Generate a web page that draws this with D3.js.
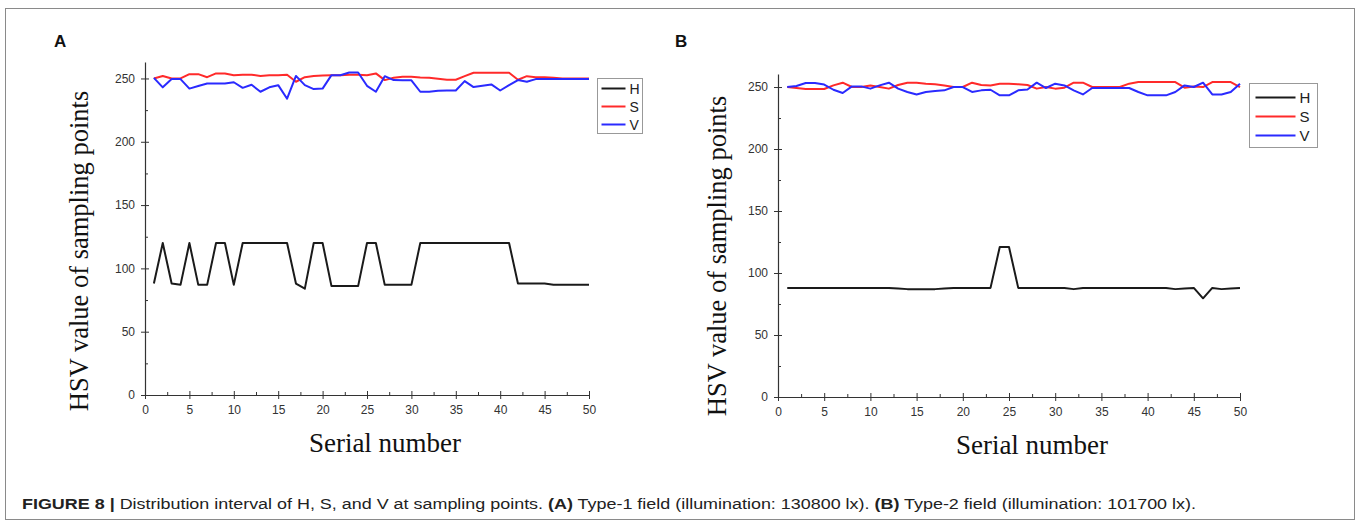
<!DOCTYPE html>
<html>
<head>
<meta charset="utf-8">
<script src="https://cdn.jsdelivr.net/npm/d3@7"></script>
<style>
  html, body { margin: 0; padding: 0; background: #fff; }
  svg { display: block; }
</style>
</head>
<body>
<svg id="chart" width="1360" height="525"></svg>
<script>
// ---------- DATA ----------
const serial = d3.range(1, 51);
const xTickValues = [0, 5, 10, 15, 20, 25, 30, 35, 40, 45, 50];
const yTickValues = [0, 50, 100, 150, 200, 250];
const seriesNames = ["H", "S", "V"];

const hA = [88,120,88,87,120,87,87,120,120,87,
            120,120,120,120,120,120,88,84,120,120,
            86,86,86,86,120,120,87,87,87,87,
            120,120,120,120,120,120,120,120,120,120,
            120,88,88,88,88,87,87,87,87,87];
const sA = [250,252,250,250,253.4,253.4,251,254,254,252.6,
            253,253,252,252.5,252.6,253,247.4,251,252,252.4,
            252.6,252.6,253,253,252.6,254,248.7,250.5,251.3,251.3,
            250.8,250.5,249.7,249,249,251.8,254.5,254.5,254.5,254.5,
            254.5,249,251.8,251,251,250.5,250,250,250,250];
const vA = [250.5,243,249.5,249.5,242,244,246,246,246,247,
            242.6,245,239.5,243,244.7,234,252,244.7,241.6,242,
            252.6,252.6,254.7,254.7,244.2,239.5,251.8,248.7,248.5,248.5,
            239.5,239.5,240.3,240.5,240.5,247.9,243.2,244.2,245.3,240.5,
            244.7,248.7,247.4,249.5,249.5,249.5,249.5,249.5,249.5,249.5];

const hB = [88,88,88,88,88,88,88,88,88,88,
            88,88,87.5,87,87,87,87,87.5,88,88,
            88,88,88,121,121,88,88,88,88,88,
            88,87,88,88,88,88,88,88,88,88,
            88,88,87,87.6,88,79.6,88,87,87.6,88];
const sB = [250,249.2,248.4,248.4,248.4,251.3,253.5,250,250,251.3,
            250,248.7,251.6,253.5,253.5,252.7,252.2,251.3,250,250,
            253.5,251.6,251.3,252.7,252.7,252.2,251.6,248.7,250,248.7,
            249.5,253.5,253.5,250,250,250,250,252.7,254,254,
            254,254,254,249.5,250.5,250,254,254,254,250];
const vB = [250,250.8,253.2,253.2,252,247.8,245.2,250.5,250.5,248.7,
            251.3,253.5,248.7,246,244,246,246.8,247.3,250,250,
            246,247.3,247.8,243.3,243.3,247.3,248,253.5,249.2,252.7,
            251.3,247.3,244,249.2,249.2,249.2,249.2,249.2,246,243.3,
            243.3,243.3,246,251.3,250,253.5,244,244,246,252.7];

// ---------- STYLE ----------
const colors = { H: "#1a1a1a", S: "#ff2a2a", V: "#2a2aff" };
const svg = d3.select("#chart");

// outer frame
svg.append("rect").attr("x", 5.5).attr("y", 8.5).attr("width", 1349).attr("height", 511)
  .attr("fill", "none").attr("stroke", "#8a8a8a").attr("stroke-width", 1);

function drawPanel(cfg) {
  const g = svg.append("g");
  const x = d3.scaleLinear().domain([0, 50]).range([cfg.x0, cfg.x1]);
  const y = d3.scaleLinear().domain([0, cfg.yTop]).range([cfg.y0, cfg.y1]);

  // minor ticks
  const minorX = d3.range(2.5, 50, 5);
  const minorY = d3.range(25, 260, 50);
  g.append("g").attr("transform", `translate(0,${cfg.y0})`)
    .call(d3.axisBottom(x).tickValues(minorX).tickSize(-3).tickFormat(""))
    .call(a => a.select(".domain").remove())
    .selectAll("line").attr("stroke", "#333");
  g.append("g").attr("transform", `translate(${cfg.x0},0)`)
    .call(d3.axisLeft(y).tickValues(minorY).tickSize(-3).tickFormat(""))
    .call(a => a.select(".domain").remove())
    .selectAll("line").attr("stroke", "#333");

  // x axis
  const xa = g.append("g").attr("transform", `translate(0,${cfg.y0})`)
    .call(d3.axisBottom(x).tickValues(xTickValues).tickSize(4).tickSizeOuter(0).tickPadding(6));
  xa.select(".domain").attr("stroke", "#333").attr("stroke-width", 1.2);
  xa.selectAll(".tick line").attr("y1", -4).attr("y2", 4).attr("stroke", "#333");
  xa.selectAll("text").attr("font-family", "Liberation Sans, Arial, sans-serif")
    .attr("font-size", 12).attr("fill", "#333");

  // y axis
  const ya = g.append("g").attr("transform", `translate(${cfg.x0},0)`)
    .call(d3.axisLeft(y).tickValues(yTickValues).tickSize(4).tickSizeOuter(0).tickPadding(6));
  ya.select(".domain").attr("stroke", "#333").attr("stroke-width", 1.2);
  ya.selectAll(".tick line").attr("x1", -4).attr("x2", 4).attr("stroke", "#333");
  ya.selectAll("text").attr("font-family", "Liberation Sans, Arial, sans-serif")
    .attr("font-size", 12).attr("fill", "#333");

  // lines
  const line = d3.line().x((d, i) => x(serial[i])).y(d => y(d));
  cfg.series.forEach((vals, k) => {
    g.append("path").datum(vals).attr("d", line)
      .attr("fill", "none").attr("stroke", colors[seriesNames[k]])
      .attr("stroke-width", 2).attr("stroke-linejoin", "round");
  });

  // axis titles
  g.append("text").attr("x", cfg.xTitleX).attr("y", cfg.xTitleY)
    .attr("text-anchor", "middle").attr("font-family", "Liberation Serif, Times New Roman, serif")
    .attr("font-size", 27).attr("fill", "#111").text("Serial number");
  g.append("text")
    .attr("transform", `translate(${cfg.yTitleX},${cfg.yTitleCY}) rotate(-90)`)
    .attr("text-anchor", "middle").attr("font-family", "Liberation Serif, Times New Roman, serif")
    .attr("font-size", 26.5).attr("fill", "#111").text("HSV value of sampling points");

  // panel letter
  g.append("text").attr("x", cfg.letterX).attr("y", 47)
    .attr("font-family", "Liberation Sans, Arial, sans-serif").attr("font-weight", "bold")
    .attr("font-size", 17).attr("fill", "#111").text(cfg.letter);

  // legend
  const L = cfg.legend;
  g.append("rect").attr("x", L.x).attr("y", L.y).attr("width", L.w).attr("height", L.h)
    .attr("fill", "#fff").attr("stroke", "#999").attr("stroke-width", 1);
  seriesNames.forEach((n, i) => {
    const yy = L.y + L.first + i * L.step;
    g.append("line").attr("x1", L.x + L.lx0).attr("x2", L.x + L.lx1)
      .attr("y1", yy).attr("y2", yy).attr("stroke", colors[n]).attr("stroke-width", 2);
    g.append("text").attr("x", L.x + L.tx).attr("y", yy).attr("dy", "0.36em")
      .attr("font-family", "Liberation Sans, Arial, sans-serif").attr("font-size", L.fs)
      .attr("fill", "#222").text(n);
  });
}

drawPanel({
  letter: "A", letterX: 54,
  x0: 145, x1: 589, y0: 395, y1: 62, yTop: 263,
  series: [hA, sA, vA],
  xTitleX: 385, xTitleY: 452, yTitleX: 88, yTitleCY: 251,
  legend: { x: 597.5, y: 78.5, w: 45, h: 55, first: 10, step: 18, lx0: 4, lx1: 28, tx: 32, fs: 14 }
});

drawPanel({
  letter: "B", letterX: 675,
  x0: 778, x1: 1240, y0: 397, y1: 74, yTop: 260.5,
  series: [hB, sB, vB],
  xTitleX: 1032, xTitleY: 454, yTitleX: 726, yTitleCY: 256,
  legend: { x: 1249.5, y: 83.5, w: 68, h: 64, first: 14, step: 19, lx0: 6, lx1: 46, tx: 50, fs: 15 }
});

// caption
const cap = svg.append("text").attr("x", 22).attr("y", 509)
  .attr("font-family", "Liberation Sans Narrow, Arial Narrow, Liberation Sans, sans-serif")
  .attr("font-size", 14).attr("fill", "#222")
  .attr("textLength", 1174).attr("lengthAdjust", "spacingAndGlyphs");
cap.append("tspan").attr("font-weight", "bold").text("FIGURE 8 | ");
cap.append("tspan").text("Distribution interval of H, S, and V at sampling points. ");
cap.append("tspan").attr("font-weight", "bold").text("(A)");
cap.append("tspan").text(" Type-1 field (illumination: 130800 lx). ");
cap.append("tspan").attr("font-weight", "bold").text("(B)");
cap.append("tspan").text(" Type-2 field (illumination: 101700 lx).");
</script>
</body>
</html>
